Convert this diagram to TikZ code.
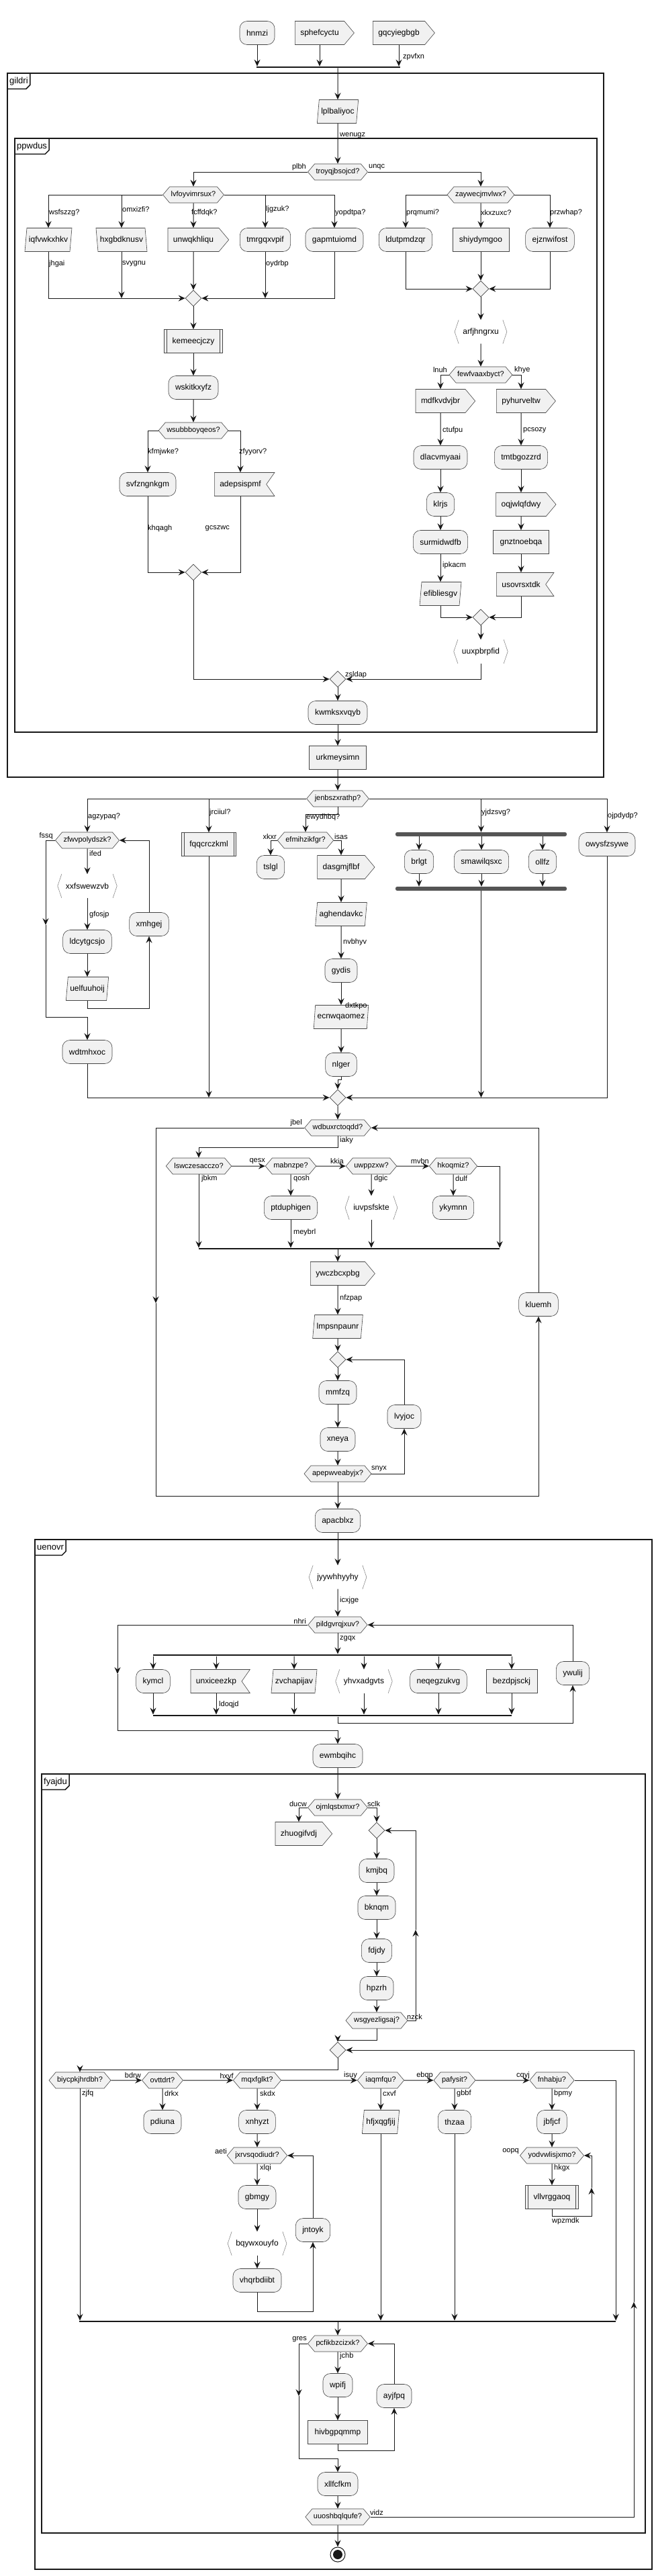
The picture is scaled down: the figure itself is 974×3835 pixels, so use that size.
\documentclass[tikz,border=0pt]{standalone}
\usepackage{fontspec}
\setmainfont{Liberation Sans}
\usetikzlibrary{shapes.geometric,shapes.symbols,arrows.meta}
\definecolor{nfill}{HTML}{F1F1F1}
\definecolor{nline}{HTML}{181818}
\definecolor{bargray}{HTML}{555555}
\tikzset{
 base/.style={font=\fontsize{12}{14}\selectfont, fill=nfill, draw=nline!80, line width=0.6pt, minimum height=35pt, inner xsep=10pt, inner ysep=0pt},
 act/.style={base, rectangle, rounded corners=11pt},
 rbox/.style={base, rectangle},
 subr/.style={base, rectangle, inner xsep=12pt},
 para/.style={base, trapezium, trapezium left angle=75, trapezium right angle=105, trapezium stretches=true, inner xsep=3pt},
 rpara/.style={base, trapezium, trapezium left angle=105, trapezium right angle=75, trapezium stretches=true, inner xsep=3pt},
 sig/.style={base, signal, signal to=east, signal pointer angle=100, inner xsep=8pt},
 flag/.style={base, signal, signal to=nowhere, signal from=east, signal pointer angle=110, inner xsep=8pt},
 angl/.style={font=\fontsize{12}{14}\selectfont, minimum height=35pt, inner xsep=12pt, inner ysep=0pt},
 dec/.style={base, signal, signal to=east and west, signal pointer angle=100, minimum height=24pt, inner xsep=2pt, font=\fontsize{11}{13}\selectfont},
 merge/.style={diamond, fill=nfill, draw=nline!80, line width=0.6pt, minimum width=24pt, minimum height=24pt, inner sep=0pt},
 hbar/.style={rectangle, fill=nline, minimum height=2.2pt, inner sep=0pt},
 gbar/.style={rectangle, fill=bargray, rounded corners=2.5pt, minimum height=6pt, inner sep=0pt},
 arr/.style={draw=nline, line width=1pt, -{Stealth[length=10pt,width=9pt,inset=3.5pt]}},
 ln/.style={draw=nline, line width=1pt},
 brk/.style={draw=nline!50, line width=0.6pt},
 lbl/.style={font=\fontsize{11}{13}\selectfont, inner sep=1pt},
 frameln/.style={draw=nline, line width=1.5pt},
 tabtxt/.style={font=\fontsize{13}{15}\selectfont, inner xsep=3pt, inner ysep=0pt, minimum height=23pt},
}
\newcommand\mylab[4]{\node[lbl,anchor=#3] (#1) at (#2) {#4};}
\newcommand\myabr[1]{\draw[brk] ([xshift=6pt]#1.north west) -- (#1.west) -- ([xshift=6pt]#1.south west);
 \draw[brk] ([xshift=-6pt]#1.north east) -- (#1.east) -- ([xshift=-6pt]#1.south east);}
\newcommand\mysub[1]{\draw[draw=nline!80, line width=0.6pt] ([xshift=4pt]#1.north west) -- ([xshift=4pt]#1.south west);
 \draw[draw=nline!80, line width=0.6pt] ([xshift=-4pt]#1.north east) -- ([xshift=-4pt]#1.south east);}
\newcommand\myfrm[6]{\draw[frameln] (#2,#3) rectangle (#4,#5);
 \node[tabtxt, anchor=north west] (#1) at (#2,#3) {#6};
 \draw[frameln] (#1.south west) -- ([xshift=-6pt]#1.south east) -- ([yshift=6pt]#1.south east) -- (#1.north east);}
\begin{document}
\begin{tikzpicture}[x=1pt,y=-1pt]
\useasboundingbox[fill=white] (0,0) rectangle (974,3835);
% frames
\myfrm{fgildri}{11}{109}{899}{1157}{gildri}
\myfrm{fppwdus}{22}{206}{889}{1090}{ppwdus}
\myfrm{fuenovr}{52}{2292}{971}{3825}{uenovr}
\myfrm{ffyajdu}{62}{2641}{961}{3771}{fyajdu}
% top
\node[act] (hnmzi) at (383,49) {hnmzi};
\node[sig] (sphe) at (476,49) {sphefcyctu};
\node[sig] (gqcy) at (594,49) {gqcyiegbgb};
\node[hbar, minimum width=214pt] (bar1) at (489,100) {};
\node[para] (lplb) at (503,166) {lplbaliyoc};
\node[dec] (troy) at (503,256) {troyqjbsojcd?};
\node[dec] (lvfo) at (288,290) {lvfoyvimrsux?};
\node[dec] (zayw) at (716,290) {zaywecjmvlwx?};
\node[para] (iqfv) at (72,357) {iqfvwkxhkv};
\node[rpara] (hxgb) at (181,357) {hxgbdknusv};
\node[sig] (unwq) at (288,357) {unwqkhliqu};
\node[act] (tmrg) at (395,357) {tmrgqxvpif};
\node[act] (gapm) at (498,357) {gapmtuiomd};
\node[act] (ldut) at (604,357) {ldutpmdzqr};
\node[rbox] (shiy) at (716,357) {shiydymgoo};
\node[act] (ejzn) at (819,357) {ejznwifost};
\node[merge] (m1) at (288,444) {};
\node[merge] (m2) at (716,430) {};
\node[angl] (arfj) at (716,494) {arfjhngrxu};
\node[dec] (few) at (716,558) {fewfvaaxbyct?};
\node[sig] (mdfk) at (656,597) {mdfkvdvjbr};
\node[sig] (pyhu) at (776,597) {pyhurveltw};
\node[act] (dlac) at (656,681) {dlacvmyaai};
\node[act] (tmtb) at (776,681) {tmtbgozzrd};
\node[act] (klrjs) at (656,751) {klrjs};
\node[sig] (oqjw) at (776,751) {oqjwlqfdwy};
\node[act] (surm) at (656,807) {surmidwdfb};
\node[rbox] (gnzt) at (776,807) {gnztnoebqa};
\node[para] (efib) at (656,884) {efibliesgv};
\node[flag] (usov) at (776,870) {usovrsxtdk};
\node[merge] (m3) at (716,919) {};
\node[angl] (uuxp) at (716,970) {uuxpbrpfid};
\node[subr] (kemee) at (288,508) {kemeecjczy};
\node[act] (wskit) at (288,577) {wskitkxyfz};
\node[dec] (wsub) at (288,641) {wsubbboyqeos?};
\node[act] (svfz) at (220,721) {svfzngnkgm};
\node[flag] (adep) at (358,721) {adepsispmf};
\node[merge] (m4) at (288,852) {};
\node[merge] (m5) at (503,1011) {};
\node[act] (kwmk) at (503,1061) {kwmksxvqyb};
\node[rbox] (urkm) at (503,1128) {urkmeysimn};
\node[dec] (jenb) at (503,1189) {jenbszxrathp?};
% jenb branches
\node[dec] (zfwv) at (130,1251) {zfwvpolydszk?};
\node[subr] (fqqc) at (311,1257) {fqqcrczkml};
\node[dec] (efmi) at (455,1251) {efmihzikfgr?};
\node[act] (tslg) at (403,1291) {tslgl};
\node[sig] (dasg) at (508,1291) {dasgmjflbf};
\node[gbar, minimum width=255pt] (fork2) at (716.5,1242) {};
\node[act] (brlgt) at (624,1283) {brlgt};
\node[act] (smaw) at (717,1283) {smawilqsxc};
\node[act] (ollfz) at (808,1283) {ollfz};
\node[gbar, minimum width=255pt] (fork3) at (716.5,1323) {};
\node[act] (owys) at (904,1257) {owysfzsywe};
\node[angl] (xxfs) at (130,1319) {xxfswewzvb};
\node[act] (ldcy) at (130,1402) {ldcytgcsjo};
\node[para] (uelf) at (130,1472) {uelfuuhoij};
\node[act] (xmhg) at (222,1376) {xmhgej};
\node[act] (wdtm) at (130,1566) {wdtmhxoc};
\node[para] (aghe) at (508,1361) {aghendavkc};
\node[act] (gydi) at (508,1445) {gydis};
\node[para] (ecnw) at (508,1514) {ecnwqaomez};
\node[act] (nlger) at (508,1585) {nlger};
\node[merge] (m6) at (503,1634) {};
\node[dec] (wdbu) at (503,1679) {wdbuxrctoqdd?};
\node[dec] (lswc) at (296,1736) {lswczesacczo?};
\node[dec] (mabn) at (433,1736) {mabnzpe?};
\node[dec] (uwpp) at (553,1736) {uwppzxw?};
\node[dec] (hkoq) at (675,1736) {hkoqmiz?};
\node[act] (ptdu) at (433,1798) {ptduphigen};
\node[angl] (iuvp) at (553,1798) {iuvpsfskte};
\node[act] (ykym) at (675,1798) {ykymnn};
\node[hbar, minimum width=448pt] (mbar) at (520,1859) {};
\node[sig] (ywcz) at (503,1896) {ywczbcxpbg};
\node[para] (lmps) at (503,1975) {lmpsnpaunr};
\node[merge] (m7) at (503,2024) {};
\node[act] (mmfz) at (503,2073) {mmfzq};
\node[act] (xney) at (503,2143) {xneya};
\node[dec] (apep) at (503,2194) {apepwveabyjx?};
\node[act] (lvyj) at (602,2109) {lvyjoc};
\node[act] (klue) at (802,1942) {kluemh};
\node[act] (apac) at (503,2264) {apacblxz};
% uenovr
\node[angl] (jyyw) at (503,2348) {jyywhhyyhy};
\node[dec] (pild) at (503,2419) {pildgvrqjxuv?};
\node[hbar, minimum width=534pt, minimum height=2.8pt] (fork4) at (495,2464) {};
\node[act] (kymcl) at (228,2503) {kymcl};
\node[flag] (unxi) at (322,2503) {unxiceezkp};
\node[para] (zvch) at (438,2503) {zvchapijav};
\node[angl] (yhvx) at (542,2503) {yhvxadgvts};
\node[act] (neqe) at (653,2503) {neqegzukvg};
\node[rbox] (bezd) at (762,2503) {bezdpjsckj};
\node[hbar, minimum width=534pt, minimum height=2.8pt] (fork5) at (495,2554) {};
\node[act] (ywul) at (853,2491) {ywulij};
\node[act] (ewmb) at (503,2614) {ewmbqihc};
% fyajdu
\node[dec] (ojml) at (503,2691) {ojmlqstxmxr?};
\node[sig] (zhuo) at (445,2730) {zhuogifvdj};
\node[merge] (m8) at (561,2725) {};
\node[act] (kmjbq) at (561,2785) {kmjbq};
\node[act] (bknqm) at (561,2840) {bknqm};
\node[act] (fdjdy) at (561,2904) {fdjdy};
\node[act] (hpzrh) at (561,2960) {hpzrh};
\node[dec] (wsgy) at (561,3008) {wsgyezligsaj?};
\node[merge] (m9) at (503,3052) {};
\node[dec] (biyc) at (119,3097) {biycpkjhrdbh?};
\node[dec] (ovtt) at (242,3097) {ovttdrt?};
\node[dec] (mqxf) at (383,3097) {mqxfglkt?};
\node[dec] (iaqm) at (567,3097) {iaqmfqu?};
\node[dec] (pafy) at (677,3097) {pafysit?};
\node[dec] (fnha) at (822,3097) {fnhabju?};
\node[act] (pdiu) at (242,3159) {pdiuna};
\node[act] (xnhy) at (383,3159) {xnhyzt};
\node[para] (hfjx) at (567,3159) {hfjxqgfjij};
\node[act] (thza) at (677,3159) {thzaa};
\node[act] (jbfj) at (822,3159) {jbfjcf};
\node[dec] (jxrv) at (383,3209) {jxrvsqodiudr?};
\node[dec] (yodv) at (822,3209) {yodvwlisjxmo?};
\node[act] (gbmg) at (383,3271) {gbmgy};
\node[angl] (bqyw) at (383,3340) {bqywxouyfo};
\node[act] (vhqr) at (383,3395) {vhqrbdiibt};
\node[act] (jnto) at (466,3320) {jntoyk};
\node[subr] (vllv) at (822,3271) {vllvrggaoq};
\node[hbar, minimum width=799pt] (mbar2) at (517.5,3456) {};
\node[dec] (pcfi) at (503,3489) {pcfikbzcizxk?};
\node[act] (wpif) at (503,3551) {wpifj};
\node[rbox] (hivb) at (503,3621) {hivbgpqmmp};
\node[act] (ayjf) at (587,3567) {ayjfpq};
\node[act] (xllf) at (503,3698) {xllfcfkm};
\node[dec] (uuos) at (503,3747) {uuoshbqlqufe?};
\node[circle, draw=nline, line width=1pt, fill=white, minimum size=22pt, inner sep=0pt] (endn) at (503,3803) {};
\node[circle, fill=nline, minimum size=14pt, inner sep=0pt] (endin) at (503,3803) {};
% decorations of special shapes
\myabr{arfj}\myabr{uuxp}\myabr{xxfs}\myabr{iuvp}\myabr{jyyw}\myabr{yhvx}\myabr{bqyw}
\mysub{kemee}\mysub{fqqc}\mysub{vllv}
% coordinates for loop corners
\coordinate (c1a) at (68,1377);
\coordinate (c1b) at (68,1514);
\coordinate (w1) at (232,1940);
\coordinate (w2) at (232,2227);
\coordinate (p1) at (175,2492);
\coordinate (p2) at (175,2576);
\coordinate (q1) at (619,2873);
\coordinate (v1) at (881,3257);
\coordinate (g1) at (445,3567);
\coordinate (g2) at (445,3660);
\coordinate (u1) at (944,3427);
% edges top
\draw[arr] (hnmzi) -- (hnmzi |- bar1.north);
\draw[arr] (sphe.south) -- (sphe.south |- bar1.north);
\draw[arr] (gqcy.south) -- (gqcy.south |- bar1.north);
\draw[arr] (bar1.south -| lplb) -- (lplb);
\draw[arr] (lplb) -- (troy);
\draw[arr] (troy.west) -| (lvfo.north);
\draw[arr] (troy.east) -| (zayw.north);
\draw[arr] (lvfo.west) -| (iqfv.north);
\draw[arr] (lvfo.west) -| (hxgb.north);
\draw[arr] (lvfo) -- (unwq);
\draw[arr] (lvfo.east) -| (tmrg.north);
\draw[arr] (lvfo.east) -| (gapm.north);
\draw[arr] (iqfv.south) |- (m1.west);
\draw[arr] (hxgb.south) -- (hxgb.south |- m1.west);
\draw[arr] (unwq) -- (m1);
\draw[arr] (tmrg.south) -- (tmrg.south |- m1.east);
\draw[arr] (gapm.south) |- (m1.east);
\draw[arr] (zayw.west) -| (ldut.north);
\draw[arr] (zayw) -- (shiy);
\draw[arr] (zayw.east) -| (ejzn.north);
\draw[arr] (ldut.south) |- (m2.west);
\draw[arr] (shiy) -- (m2);
\draw[arr] (ejzn.south) |- (m2.east);
\draw[arr] (m2) -- (arfj);
\draw[arr] (arfj) -- (few);
\draw[arr] (few.west) -| (mdfk.north);
\draw[arr] (few.east) -| (pyhu.north);
\draw[arr] (mdfk) -- (dlac);
\draw[arr] (dlac) -- (klrjs);
\draw[arr] (klrjs) -- (surm);
\draw[arr] (surm) -- (efib);
\draw[arr] (pyhu) -- (tmtb);
\draw[arr] (tmtb) -- (oqjw);
\draw[arr] (oqjw) -- (gnzt);
\draw[arr] (gnzt) -- (usov);
\draw[arr] (efib.south) |- (m3.west);
\draw[arr] (usov.south) |- (m3.east);
\draw[arr] (m3) -- (uuxp);
\draw[arr] (m1) -- (kemee);
\draw[arr] (kemee) -- (wskit);
\draw[arr] (wskit) -- (wsub);
\draw[arr] (wsub.west) -| (svfz.north);
\draw[arr] (wsub.east) -| (adep.north);
\draw[arr] (svfz.south) |- (m4.west);
\draw[arr] (adep.south) |- (m4.east);
\draw[arr] (m4.south) |- (m5.west);
\draw[arr] (uuxp.south) |- (m5.east);
\draw[arr] (m5) -- (kwmk);
\draw[arr] (kwmk) -- (urkm);
\draw[arr] (urkm) -- (jenb);
% jenb
\draw[arr] (jenb.west) -| (zfwv.north);
\draw[arr] (jenb.west) -| (fqqc.north);
\draw[arr] (jenb.south) -- ++(0,11) -| (efmi.north);
\draw[arr] (jenb.east) -| (fork2.north);
\draw[arr] (jenb.east) -| (owys.north);
\draw[arr] (zfwv.west) -| (c1a);
\draw[arr] (c1a) -- (c1b) -| (wdtm.north);
\draw[arr] (zfwv) -- (xxfs);
\draw[arr] (xxfs) -- (ldcy);
\draw[arr] (ldcy) -- (uelf);
\draw[arr] (uelf.south) -- ++(0,12) -| (xmhg.south);
\draw[arr] (xmhg.north) |- (zfwv.east);
\draw[arr] (wdtm.south) |- (m6.west);
\draw[arr] (fqqc.south) -- (fqqc.south |- m6.west);
\draw[arr] (efmi.west) -| (tslg.north);
\draw[arr] (efmi.east) -| (dasg.north);
\draw[arr] (dasg) -- (aghe);
\draw[arr] (aghe) -- (gydi);
\draw[arr] (gydi) -- (ecnw);
\draw[arr] (ecnw) -- (nlger);
\draw[arr] (nlger.south) -- ++(0,5) -| (m6.north);
\draw[arr] (fork2.south -| brlgt) -- (brlgt.north);
\draw[arr] (fork2.south -| smaw) -- (smaw.north);
\draw[arr] (fork2.south -| ollfz) -- (ollfz.north);
\draw[arr] (brlgt.south) -- (brlgt.south |- fork3.north);
\draw[arr] (smaw.south) -- (smaw.south |- fork3.north);
\draw[arr] (ollfz.south) -- (ollfz.south |- fork3.north);
\draw[arr] (fork3.south) -- (fork3.south |- m6.east);
\draw[arr] (owys.south) |- (m6.east);
\draw[arr] (m6) -- (wdbu);
% wdbu loop
\draw[arr] (wdbu.west) -| (w1);
\draw[arr] (w1) -- (w2) -| (apac.north);
\draw[arr] (wdbu.south) -- ++(0,17) -| (lswc.north);
\draw[arr] (lswc) -- (mabn);
\draw[arr] (mabn) -- (uwpp);
\draw[arr] (uwpp) -- (hkoq);
\draw[arr] (lswc.south) -- (lswc.south |- mbar.north);
\draw[arr] (mabn) -- (ptdu);
\draw[arr] (ptdu.south) -- (ptdu.south |- mbar.north);
\draw[arr] (uwpp) -- (iuvp);
\draw[arr] (iuvp.south) -- (iuvp.south |- mbar.north);
\draw[arr] (hkoq) -- (ykym);
\draw[arr] (hkoq.east) -| (mbar.north east);
\draw[arr] (mbar.south -| ywcz) -- (ywcz.north);
\draw[arr] (ywcz) -- (lmps);
\draw[arr] (lmps) -- (m7);
\draw[arr] (m7) -- (mmfz);
\draw[arr] (mmfz) -- (xney);
\draw[arr] (xney) -- (apep);
\draw[arr] (apep.east) -| (lvyj.south);
\draw[arr] (lvyj.north) |- (m7.east);
\draw[arr] (apep.south) -- ++(0,21) -| (klue.south);
\draw[arr] (klue.north) |- (wdbu.east);
% uenovr
\draw[arr] (apac) -- (jyyw);
\draw[arr] (jyyw) -- (pild);
\draw[arr] (pild.west) -| (p1);
\draw[arr] (p1) -- (p2) -| (ewmb.north);
\draw[arr] (pild.south) -- (pild.south |- fork4.north);
\draw[arr] (fork4.south -| kymcl) -- (kymcl.north);
\draw[arr] (fork4.south -| unxi) -- (unxi.north);
\draw[arr] (fork4.south -| zvch) -- (zvch.north);
\draw[arr] (fork4.south -| yhvx) -- (yhvx.north);
\draw[arr] (fork4.south -| neqe) -- (neqe.north);
\draw[arr] (fork4.south -| bezd) -- (bezd.north);
\draw[arr] (kymcl.south) -- (kymcl.south |- fork5.north);
\draw[arr] (unxi.south) -- (unxi.south |- fork5.north);
\draw[arr] (zvch.south) -- (zvch.south |- fork5.north);
\draw[arr] (yhvx.south) -- (yhvx.south |- fork5.north);
\draw[arr] (neqe.south) -- (neqe.south |- fork5.north);
\draw[arr] (bezd.south) -- (bezd.south |- fork5.north);
\draw[arr] (fork5.south -| pild) -- ++(0,10) -| (ywul.south);
\draw[arr] (ywul.north) |- (pild.east);
\draw[arr] (ewmb) -- (ojml);
% fyajdu
\draw[arr] (ojml.west) -| (zhuo.north);
\draw[arr] (ojml.east) -| (m8.north);
\draw[arr] (m8) -- (kmjbq);
\draw[arr] (kmjbq) -- (bknqm);
\draw[arr] (bknqm) -- (fdjdy);
\draw[arr] (fdjdy) -- (hpzrh);
\draw[arr] (hpzrh) -- (wsgy);
\draw[arr] (wsgy.east) -| (q1);
\draw[arr] (q1) |- (m8.east);
\draw[arr] (wsgy.south) -- ++(0,17) -| (m9.north);
\draw[arr] (m9.south) -- ++(0,17) -| (biyc.north);
\draw[arr] (biyc) -- (ovtt);
\draw[arr] (ovtt) -- (mqxf);
\draw[arr] (mqxf) -- (iaqm);
\draw[arr] (iaqm) -- (pafy);
\draw[arr] (pafy) -- (fnha);
\draw[arr] (fnha.east) -| (mbar2.north east);
\draw[arr] (biyc.south) -- (biyc.south |- mbar2.north);
\draw[arr] (ovtt) -- (pdiu);
\draw[arr] (mqxf) -- (xnhy);
\draw[arr] (xnhy) -- (jxrv);
\draw[arr] (jxrv) -- (gbmg);
\draw[arr] (gbmg) -- (bqyw);
\draw[arr] (bqyw) -- (vhqr);
\draw[arr] (vhqr.south) -- ++(0,29) -| (jnto.south);
\draw[arr] (jnto.north) |- (jxrv.east);
\draw[arr] (iaqm) -- (hfjx);
\draw[arr] (hfjx.south) -- (hfjx.south |- mbar2.north);
\draw[arr] (pafy) -- (thza);
\draw[arr] (thza.south) -- (thza.south |- mbar2.north);
\draw[arr] (fnha) -- (jbfj);
\draw[arr] (jbfj) -- (yodv);
\draw[arr] (yodv) -- (vllv);
\draw[arr] (vllv.south) -- ++(0,11) -| (v1);
\draw[arr] (v1) |- (yodv.east);
\draw[arr] (mbar2.south -| pcfi) -- (pcfi.north);
\draw[arr] (pcfi.west) -| (g1);
\draw[arr] (g1) -- (g2) -| (xllf.north);
\draw[arr] (pcfi) -- (wpif);
\draw[arr] (wpif) -- (hivb);
\draw[arr] (hivb.south) -- ++(0,10) -| (ayjf.south);
\draw[arr] (ayjf.north) |- (pcfi.east);
\draw[arr] (xllf) -- (uuos);
\draw[arr] (uuos.east) -| (u1);
\draw[arr] (u1) |- (m9.east);
\draw[arr] (uuos) -- (endn);
% labels
\mylab{la1}{599,85}{west}{zpvfxn}
\mylab{la2}{505,202}{west}{wenugz}
\mylab{la3}{457,249}{east}{plbh}
\mylab{la4}{548,249}{west}{unqc}
\mylab{la5}{72,317}{west}{wsfszzg?}
\mylab{la6}{181,312}{west}{omxizfi?}
\mylab{la7}{284,317}{west}{fcffdqk?}
\mylab{la8}{395,312}{west}{ljgzuk?}
\mylab{la9}{498,317}{west}{yopdtpa?}
\mylab{la10}{604,317}{west}{prqmumi?}
\mylab{la11}{715,317}{west}{xkxzuxc?}
\mylab{la12}{818,317}{west}{przwhap?}
\mylab{la13}{72,393}{west}{jhgai}
\mylab{la14}{181,393}{west}{svygnu}
\mylab{la15}{395,393}{west}{oydrbp}
\mylab{la16}{667,551}{east}{lnuh}
\mylab{la17}{765,551}{west}{khye}
\mylab{la18}{658,641}{west}{ctufpu}
\mylab{la19}{778,641}{west}{pcsozy}
\mylab{la20}{658,842}{west}{ipkacm}
\mylab{la21}{219,673}{west}{kfmjwke?}
\mylab{la22}{355,673}{west}{zfyyorv?}
\mylab{la23}{219,787}{west}{khqagh}
\mylab{la24}{343,787}{east}{gcszwc}
\mylab{la25}{513,1005}{west}{zsldap}
\mylab{lb1}{130,1216}{west}{agzypaq?}
\mylab{lb2}{311,1210}{west}{jrciiul?}
\mylab{lb3}{455,1217}{west}{ewydhbq?}
\mylab{lb4}{716,1210}{west}{yjdzsvg?}
\mylab{lb5}{904,1215}{west}{ojpdydp?}
\mylab{lb6}{80,1245}{east}{fssq}
\mylab{lb7}{132,1271}{west}{ifed}
\mylab{lb8}{413,1246}{east}{xkxr}
\mylab{lb9}{497,1246}{west}{isas}
\mylab{lb10}{132,1362}{west}{gfosjp}
\mylab{lb11}{510,1403}{west}{nvbhyv}
\mylab{lb12}{513,1498}{west}{dxtkpo}
\mylab{lb13}{451,1672}{east}{jbel}
\mylab{lb14}{505,1698}{west}{iaky}
\mylab{lb15}{396,1729}{east}{qesx}
\mylab{lb16}{513,1729}{east}{kkia}
\mylab{lb17}{640,1729}{east}{mvbn}
\mylab{lb18}{299,1755}{west}{jbkm}
\mylab{lb19}{436,1755}{west}{qosh}
\mylab{lb20}{556,1755}{west}{dgic}
\mylab{lb21}{677,1755}{west}{dulf}
\mylab{lb22}{436,1835}{west}{meybrl}
\mylab{lb23}{505,1933}{west}{nfzpap}
\mylab{lb24}{552,2187}{west}{snyx}
\mylab{lc1}{505,2383}{west}{icxjge}
\mylab{lc2}{457,2413}{east}{nhri}
\mylab{lc3}{505,2440}{west}{zgqx}
\mylab{lc4}{325,2538}{west}{ldoqjd}
\mylab{lc5}{458,2686}{east}{ducw}
\mylab{lc6}{546,2686}{west}{sclk}
\mylab{lc7}{605,3003}{west}{nzck}
\mylab{lc8}{211,3090}{east}{bdrw}
\mylab{lc9}{349,3090}{east}{hxvf}
\mylab{lc10}{533,3090}{east}{isuy}
\mylab{lc11}{646,3090}{east}{ebqp}
\mylab{lc12}{790,3090}{east}{cqyj}
\mylab{lc13}{121,3117}{west}{zjfq}
\mylab{lc14}{244,3117}{west}{drkx}
\mylab{lc15}{386,3117}{west}{skdx}
\mylab{lc16}{569,3117}{west}{cxvf}
\mylab{lc17}{679,3117}{west}{gbbf}
\mylab{lc18}{824,3117}{west}{bpmy}
\mylab{lc19}{339,3203}{east}{aeti}
\mylab{lc20}{774,3203}{east}{oopq}
\mylab{lc21}{386,3228}{west}{xlqi}
\mylab{lc22}{824,3228}{west}{hkgx}
\mylab{lc23}{821,3307}{west}{wpzmdk}
\mylab{lc24}{458,3483}{east}{gres}
\mylab{lc25}{505,3508}{west}{jchb}
\mylab{lc26}{550,3741}{west}{vidz}
\end{tikzpicture}
\end{document}
